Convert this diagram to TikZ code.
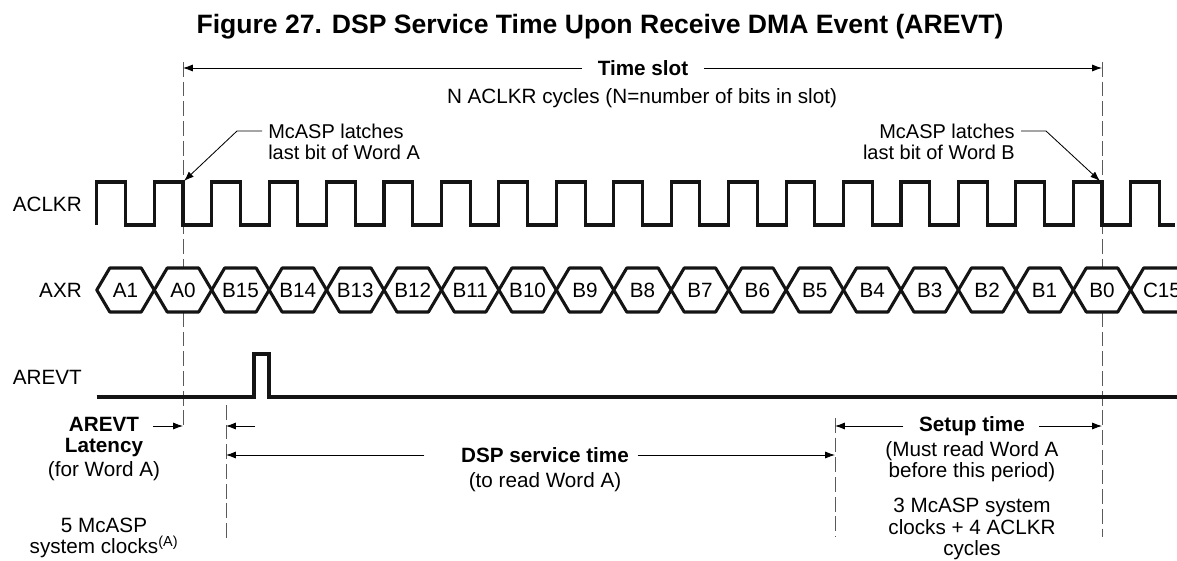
\documentclass[tikz,border=0pt]{standalone}
\usepackage{fontspec}
\setmainfont{Liberation Sans}
\usetikzlibrary{
  arrows.meta,
  calc,
  positioning,
}
\tikzstyle{dim} = [
  -{Latex[length=7pt,width=5pt]},
  line width=0.6pt,
  black,
]
\definecolor{guidegray}{RGB}{90, 90, 90}
\definecolor{inkblack}{RGB}{20, 20, 20}

\begin{document}
\begin{tikzpicture}[x=0.025cm, y=-0.025cm,
    sig/.style={inkblack, line width=2.2pt, line join=bevel},
    guide/.style={guidegray, line width=0.7pt, dash pattern=on 10.5pt off 3.5pt},
    lbl/.style={inner sep=0pt, align=center, font=\fontsize{14.7}{15}\selectfont},
    bold/.style={lbl, font=\fontsize{14.7}{15}\selectfont\bfseries},
    note/.style={lbl, font=\fontsize{14.2}{14.7}\selectfont}]
  \clip (0,0) rectangle (1177,560);
  \def\per{57.44}

  \node [font=\fontsize{18.9}{22}\selectfont\bfseries] (title) at (600,27)
        {Figure 27. DSP Service Time Upon Receive DMA Event (AREVT)};

  % guide lines
  \coordinate (latAtop) at (183,62);
  \coordinate (latAmid) at (183,268);
  \coordinate (latAlow) at (183,312);
  \coordinate (latAbot) at (183,430);
  \coordinate (latBtop) at (1102,62);
  \coordinate (latBmid) at (1102,268);
  \coordinate (latBlow) at (1102,312);
  \coordinate (latBbot) at (1102,537);
  \coordinate (svctop) at (226,405);
  \coordinate (svcbot) at (226,540);
  \coordinate (setuptop) at (835,418);
  \coordinate (setupbot) at (835,537);
  \draw [guide] (latAtop) -- (latAmid);
  \draw [guide] (latAlow) -- (latAbot);
  \draw [guide] (latBtop) -- (latBmid);
  \draw [guide] (latBlow) -- (latBbot);
  \draw [guide] (svctop) -- (svcbot);
  \draw [guide] (setuptop) -- (setupbot);

  % time slot
  \node [bold] (slot) at (643,68) {Time slot};
  \node [lbl] (ncyc) at (642,98) {N ACLKR cycles (N=number of bits in slot)};
  \coordinate (slotL) at (183,68);
  \coordinate (slotR) at (1102,68);
  \draw [dim] ([xshift=-11pt]slot.west) -- (slotL);
  \draw [dim] ([xshift=11pt]slot.east) -- (slotR);

  % latch notes
  \node [note, align=left, anchor=west] (latA) at (268,142)
        {McASP latches\\last bit of Word A};
  \node [note, align=right, anchor=east] (latB) at (1015,142)
        {McASP latches\\last bit of Word B};
  \coordinate (fromA) at (262,131);
  \coordinate (kneeA) at (237,131);
  \coordinate (tipA) at (184,181);
  \coordinate (fromB) at (1021,131);
  \coordinate (kneeB) at (1046,131);
  \coordinate (tipB) at (1100,181);
  \draw [dim] (fromA) -- (kneeA) -- (tipA);
  \draw [dim] (fromB) -- (kneeB) -- (tipB);

  % signal names
  \node [lbl, anchor=east] (clkname) at (82,204) {ACLKR};
  \node [lbl, anchor=east] (axrname) at (82,290) {AXR};
  \node [lbl, anchor=east] (evtname) at (82,377) {AREVT};

  % ACLKR
  \draw [sig, line join=miter] (96.8,225) -- (96.8,182)
    \foreach \k in {0,...,17} { -- ++(\per/2,0) -- ++(0,43) -- ++(\per/2,0) -- ++(0,-43) }
    -- ++(\per/2,0) -- ++(0,43) -- (1175,225);

  % AXR
  \foreach \bit [count=\k from 0] in {A1,A0,B15,B14,B13,B12,B11,B10,B9,B8,
                                      B7,B6,B5,B4,B3,B2,B1,B0} {
    \pgfmathsetmacro\left{96.8+\k*\per}
    \draw [sig] (\left,290) -- ++(13,-22) -- ++(\per-26,0) -- ++(13,22)
                -- ++(-13,22) -- ++(-\per+26,0) -- cycle;
    \node [lbl] (bit\k) at (\left+\per/2,290) {\bit};
  }
  \draw [sig] (1177,268) -- (1143.7,268) -- (1130.7,290) -- (1143.7,312) -- (1177,312);
  \node [lbl] (bit18) at (1162,290) {C15};

  % AREVT
  \draw [sig, line join=miter] (96.7,397) -- (254,397) -- (254,354) -- (269,354)
    -- (269,397) -- (1177,397);

  % latency
  \node [bold] (latency) at (104,437) {AREVT\\Latency};
  \node [lbl] (forA) at (104,471) {(for Word A)};
  \node [lbl] (fiveclk) at (104,538) {5 McASP\\system clocks\textsuperscript{(A)}};
  \coordinate (latfrom) at (153,426);
  \coordinate (latto) at (183,426);
  \coordinate (svcfrom) at (255,426);
  \coordinate (svcto) at (226,426);
  \draw [dim] (latfrom) -- (latto);
  \draw [dim] (svcfrom) -- (svcto);

  % service time
  \node [bold] (dsp) at (545,455) {DSP service time};
  \node [lbl] (toread) at (545,482) {(to read Word A)};
  \coordinate (dspL) at (226,455);
  \coordinate (dspR) at (835,455);
  \draw [dim] ([xshift=-26pt]dsp.west) -- (dspL);
  \draw [dim] ([xshift=6pt]dsp.east) -- (dspR);

  % setup time
  \node [bold] (setup) at (972,426) {Setup time};
  \node [lbl] (mustread) at (972,462) {(Must read Word A\\before this period)};
  \node [lbl] (threeclk) at (972,529) {3 McASP system\\clocks + 4 ACLKR\\cycles};
  \coordinate (setupL) at (835,426);
  \coordinate (setupR) at (1102,426);
  \draw [dim] ([xshift=-11pt]setup.west) -- (setupL);
  \draw [dim] ([xshift=10pt]setup.east) -- (setupR);
\end{tikzpicture}
\end{document}
